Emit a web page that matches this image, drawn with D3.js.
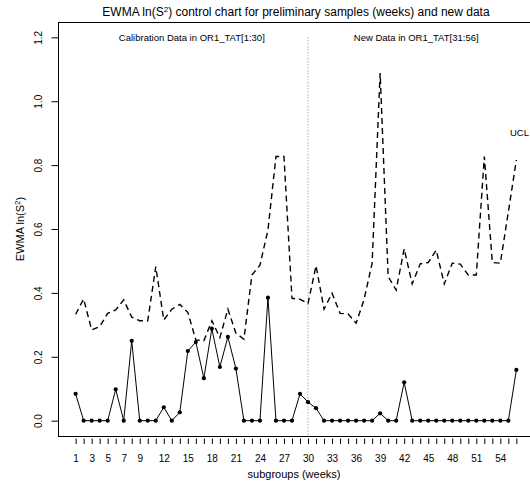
<!DOCTYPE html>
<html>
<head>
<meta charset="utf-8">
<script src="https://cdn.jsdelivr.net/npm/d3@7"></script>
<style>
  body { margin: 0; background: #fff; }
  svg { font-family: "Liberation Sans", Arial, sans-serif; }
</style>
</head>
<body>
<div id="chart"></div>
<script>
// EWMA ln(S^2) statistic per week (solid line with points)
const ewmaValues = [0.084, 0, 0, 0, 0, 0.098, 0, 0.25, 0, 0, 0, 0.042, 0, 0.026, 0.218, 0.246, 0.133, 0.288, 0.168, 0.262,
    0.163, 0, 0, 0, 0.385, 0, 0, 0, 0.084, 0.058, 0.039, 0, 0, 0, 0, 0, 0, 0, 0.023, 0,
    0, 0.12, 0, 0, 0, 0, 0, 0, 0, 0, 0, 0, 0, 0, 0, 0.159];

// upper control limit per week (dashed)
const uclValues = [0.333, 0.381, 0.284, 0.294, 0.336, 0.347, 0.378, 0.324, 0.313, 0.313, 0.482, 0.315, 0.349, 0.364, 0.339, 0.253, 0.25, 0.313, 0.26, 0.349,
    0.274, 0.255, 0.456, 0.487, 0.597, 0.827, 0.827, 0.383, 0.38, 0.367, 0.485, 0.349, 0.399, 0.336, 0.334, 0.305, 0.38, 0.493, 1.088, 0.451,
    0.409, 0.538, 0.428, 0.491, 0.495, 0.534, 0.428, 0.493, 0.49, 0.456, 0.456, 0.827, 0.495, 0.493, 0.654, 0.816];

const weeks = d3.range(1, 57);
const xTickLabels = [1, 3, 5, 7, 9, 12, 15, 18, 21, 24, 27, 30, 33, 36, 39, 42, 45, 48, 51, 54];
const yTicks = [0, 0.2, 0.4, 0.6, 0.8, 1.0, 1.2];
const splitWeek = 30;

const width = 530, height = 486;
const plot = { left: 58, right: 534, top: 22, bottom: 436 };

const svg = d3.select("#chart").append("svg")
    .attr("width", width)
    .attr("height", height);

// R style ranges (4% padding around data range)
const x = d3.scaleLinear().domain([-1.2, 58.2]).range([plot.left, plot.right]);
const y = d3.scaleLinear().domain([-0.048, 1.248]).range([plot.bottom, plot.top]);

// title
const title = svg.append("text")
    .attr("x", (plot.left + plot.right) / 2)
    .attr("y", 16)
    .attr("text-anchor", "middle")
    .style("font-size", "12px");
title.append("tspan").text("EWMA ln(S");
title.append("tspan").attr("dy", -4).style("font-size", "8px").text("2");
title.append("tspan").attr("dy", 4).text(") control chart for preliminary samples (weeks) and new data");

// y axis
const yAxis = svg.append("g")
    .attr("transform", `translate(${plot.left},0)`)
    .call(d3.axisLeft(y).tickValues(yTicks).tickSize(6.5).tickFormat(d3.format(".1f")));
yAxis.select(".domain").remove();
yAxis.selectAll("line").attr("stroke", "#000");
yAxis.selectAll("text")
    .attr("x", 0).attr("dy", 0)
    .attr("text-anchor", "middle")
    .attr("transform", "translate(-16,0) rotate(-90)")
    .attr("fill", "#000")
    .style("font-size", "10px")
    .style("font-family", "Liberation Sans, Arial, sans-serif");

// x axis (ticks sit just below the box)
const xAxis = svg.append("g")
    .attr("transform", `translate(0,${plot.bottom + 2.5})`)
    .call(d3.axisBottom(x).tickValues(weeks).tickSize(5.5).tickPadding(10.5)
        .tickFormat(d => xTickLabels.includes(d) ? d : ""));
xAxis.select(".domain").remove();
xAxis.selectAll("line").attr("stroke", "#000");
xAxis.selectAll("text")
    .attr("fill", "#000")
    .style("font-size", "10px")
    .style("font-family", "Liberation Sans, Arial, sans-serif");

// axis titles
svg.append("text")
    .attr("x", (plot.left + plot.right) / 2 - 2)
    .attr("y", 478)
    .attr("text-anchor", "middle")
    .style("font-size", "11px")
    .text("subgroups (weeks)");

const yTitle = svg.append("text")
    .attr("transform", `translate(24,${(plot.top + plot.bottom) / 2}) rotate(-90)`)
    .attr("text-anchor", "middle")
    .style("font-size", "11px");
yTitle.append("tspan").text("EWMA ln(S");
yTitle.append("tspan").attr("dy", -4).style("font-size", "8px").text("2");
yTitle.append("tspan").attr("dy", 4).text(")");

// separator between calibration and new data
svg.append("line")
    .attr("x1", x(splitWeek)).attr("x2", x(splitWeek))
    .attr("y1", y(1.2)).attr("y2", plot.bottom)
    .attr("stroke", "#888")
    .attr("stroke-dasharray", "1,2");

svg.append("text")
    .attr("x", x(15.5)).attr("y", y(1.2))
    .attr("dy", "0.35em")
    .attr("text-anchor", "middle")
    .style("font-size", "9.5px")
    .text("Calibration Data in OR1_TAT[1:30]");

svg.append("text")
    .attr("x", x(43.5)).attr("y", y(1.2))
    .attr("dy", "0.35em")
    .attr("text-anchor", "middle")
    .style("font-size", "9.5px")
    .text("New Data in OR1_TAT[31:56]");

// UCL line
const line = d3.line().x((d, i) => x(weeks[i])).y(d => y(d));

svg.append("path")
    .datum(uclValues)
    .attr("d", line)
    .attr("fill", "none")
    .attr("stroke", "#000")
    .attr("stroke-width", 1.4)
    .attr("stroke-dasharray", "6,4");

// label kept inside the window
svg.append("text")
    .attr("x", width - 1).attr("y", y(0.9))
    .attr("dy", "0.35em")
    .attr("text-anchor", "end")
    .style("font-size", "9.5px")
    .text("UCL");

// EWMA statistic
svg.append("path")
    .datum(ewmaValues)
    .attr("d", line)
    .attr("fill", "none")
    .attr("stroke", "#000")
    .attr("stroke-width", 1);

svg.selectAll(".pt")
    .data(ewmaValues)
    .enter()
    .append("circle")
    .attr("class", "pt")
    .attr("cx", (d, i) => x(weeks[i]))
    .attr("cy", d => y(d))
    .attr("r", 2.1)
    .attr("fill", "#000");

// plot box
svg.append("rect")
    .attr("x", plot.left + 0.5).attr("y", plot.top + 0.5)
    .attr("width", plot.right - plot.left).attr("height", plot.bottom - plot.top)
    .attr("fill", "none")
    .attr("stroke", "#000")
    .attr("stroke-width", 1);
</script>
</body>
</html>
